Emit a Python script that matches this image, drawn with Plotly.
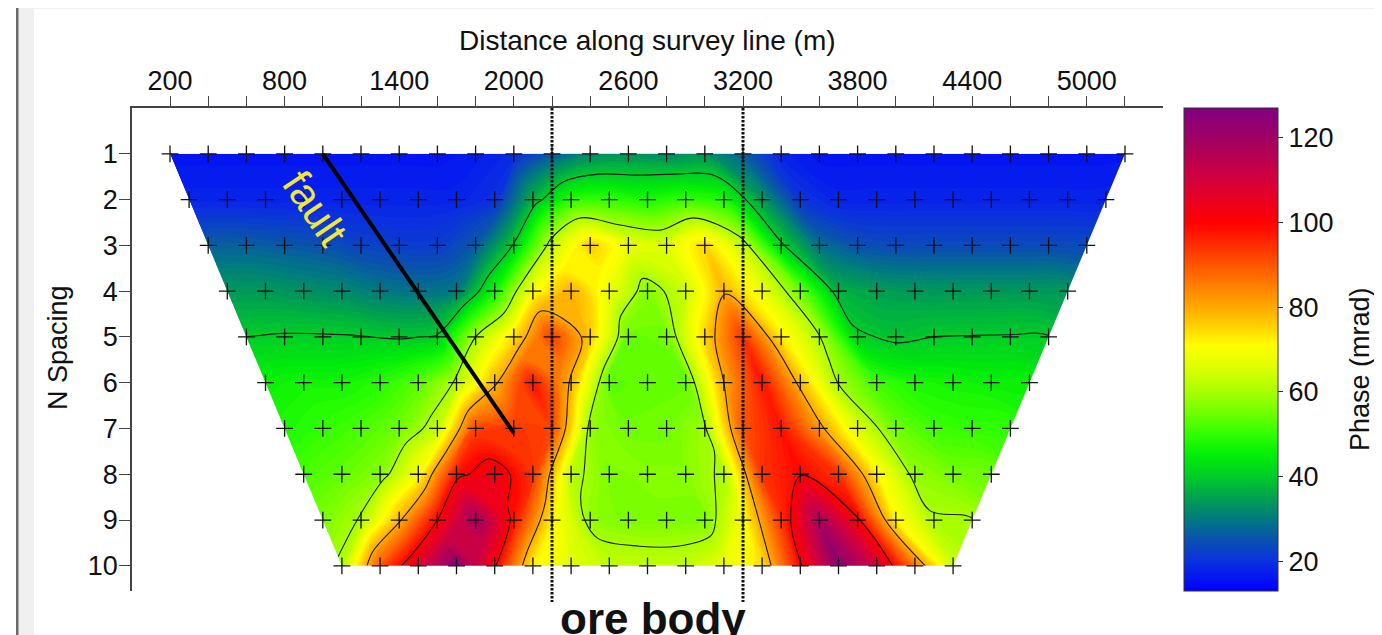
import plotly.graph_objects as go

# ---------------- data ----------------
n_spacing = [1, 2, 3, 4, 5, 6, 7, 8, 9, 10]
row_first_x = [200, 300, 400, 500, 600, 700, 800, 900, 1000, 1100]
row_last_x = [5200, 5100, 5000, 4900, 4800, 4700, 4600, 4500, 4400, 4300]
station_step = 200

phase_n1 = [16, 16, 16, 16, 16, 16, 16, 16, 17, 19, 26, 32, 33, 32, 33, 27, 18, 16, 16, 16, 16, 16, 16, 16, 16, 16]
phase_n2 = [18, 18, 18, 18, 18, 18, 18, 18, 20, 37, 49, 50, 48, 50, 48, 34, 21, 18, 18, 18, 18, 18, 18, 18, 18]
phase_n3 = [27, 27, 26, 25, 23, 22, 22, 26, 40.5, 63, 76, 68, 66, 75, 63, 41, 29, 25, 24, 24, 24, 24, 24, 24]
phase_n4 = [34, 34, 33, 32, 30, 29, 30, 47, 70, 79.5, 68, 57, 64, 79, 68, 55, 37, 35, 34, 34, 34, 34, 34]
phase_n5 = [40.0, 40.5, 40.5, 40.2, 39.4, 40.5, 60, 74, 93, 76, 54, 55, 75, 94, 73, 60.5, 41, 38.8, 40, 40.2, 40.3, 40.3]
phase_n6 = [46, 47, 47, 49, 53, 61, 79, 98, 79, 53, 54, 54, 80, 98, 78, 59.5, 51, 48, 47, 46, 46]
phase_n7 = [48, 50, 52, 55, 63, 92, 94, 92, 58, 55, 55, 59, 90, 98, 82, 66, 55, 51, 50, 50]
phase_n8 = [52, 54, 57, 70, 98, 104, 94, 62, 56, 57, 57, 61, 94, 99.5, 94, 72, 58, 55.5, 55]
phase_n9 = [56, 60.5, 79, 100, 120, 98, 72, 58, 56, 56, 56, 70, 94, 118, 101, 72, 60.5, 60.3]
phase_n10 = [61, 90, 108, 125, 101, 72, 66, 63, 63, 63, 68, 74, 99, 124, 110, 86, 64]
phase_rows = [phase_n1, phase_n2, phase_n3, phase_n4, phase_n5,
              phase_n6, phase_n7, phase_n8, phase_n9, phase_n10]

x_ticks_major = [200, 800, 1400, 2000, 2600, 3200, 3800, 4400, 5000]
x_ticks_minor = list(range(200, 5201, 200))
cbar_ticks = [20, 40, 60, 80, 100, 120]
contour_line_levels = dict(start=40, end=100, size=20)

fault_x = [1000, 2000]
fault_y = [1, 7.1]
ore_body_x = [2200, 3200]

# ---------------- tables built from the data ----------------
n_max = max(len(r) for r in phase_rows)
station_index = list(range(n_max))
xs, ys, zs = [], [], []
grid_x, grid_y, grid_z = [], [], []
for n, x0, x1, vals in zip(n_spacing, row_first_x, row_last_x, phase_rows):
    row_x = list(range(x0, x1 + 1, station_step))
    assert len(row_x) == len(vals), (n, len(row_x), len(vals))
    xs += row_x
    ys += [n] * len(row_x)
    zs += vals
    grid_x.append([x0 + station_step * k for k in station_index])
    grid_y.append([n] * n_max)
    grid_z.append(list(vals) + [None] * (n_max - len(vals)))

# ---------------- geometry (screen pixels; page has an 8px body margin) ----------------
OFF = 8
W, H = 1382 - OFF, 635 - OFF
ML, MT = 132 - OFF, 108 - OFF
PW, PH = 1031, 483
MR, MB = W - ML - PW, H - MT - PH
X_RANGE = [1, 5399]
Y_RANGE = [10.55, 0]


def px_x(p):
    return (p - OFF - ML) / PW


def px_y(p):
    return (MT + PH - (p - OFF)) / PH


def data_x_paper(v):
    return (v - X_RANGE[0]) / (X_RANGE[1] - X_RANGE[0])


cs_vals = [13, 20, 25, 30, 35, 40, 45, 50, 55, 60, 66, 71, 76, 82, 90, 100, 110, 120, 127]
cs_cols = ['#0000ff', '#0a30e0', '#0a50b0', '#007a80', '#00a050', '#00cc28', '#00ee08',
           '#30ff00', '#70ff00', '#a8ff00', '#e0ff00', '#ffff00', '#ffcc00', '#ff9900',
           '#ff5500', '#ff0000', '#d4003c', '#a00064', '#800080']
zmin, zmax = cs_vals[0], cs_vals[-1]
colorscale = [[(v - zmin) / (zmax - zmin), c] for v, c in zip(cs_vals, cs_cols)]

FONT = "Liberation Sans, Arial, sans-serif"
TXT = '#111111'
AX = '#444444'
HIDE = 'rgba(0,0,0,0)'
carpet_axis = dict(showgrid=False, showline=False, startline=False, endline=False,
                   showticklabels='none', minorgridcount=0, smoothing=0,
                   gridcolor=HIDE, linecolor=HIDE, color=HIDE)

fig = go.Figure()

fig.add_trace(go.Carpet(carpet='pseudo', a=station_index, b=n_spacing, x=grid_x, y=grid_y,
                        aaxis=carpet_axis, baxis=carpet_axis))

# smooth colour shading (fine colour steps)
fig.add_trace(go.Contourcarpet(
    carpet='pseudo', a=station_index, b=n_spacing, z=grid_z,
    autocontour=False, colorscale=colorscale, showscale=False,
    contours=dict(coloring='fill', showlines=False, start=zmin + 0.5, end=zmax - 0.5, size=1),
    line=dict(width=0)))

# black contour lines
fig.add_trace(go.Contourcarpet(
    carpet='pseudo', a=station_index, b=n_spacing, z=grid_z,
    autocontour=False, showscale=False,
    contours=dict(coloring='none', showlines=True, **contour_line_levels),
    line=dict(color='#1a1a1a', width=1.1, smoothing=1)))

# white mask outside the trapezoid of measurements
xa, xb = -200, 6500
mx = [xa, xb, xb, xa, xa, None,
      xa, xb, xb, xa, xa, None,
      xa, row_first_x[0], row_first_x[-1], xa, xa, None,
      row_last_x[0], xb, xb, row_last_x[-1], row_last_x[0]]
my = [-1, -1, 1, 1, -1, None,
      10, 10, 12, 12, 10, None,
      1, 1, 10, 10, 1, None,
      1, 1, 10, 10, 1]
fig.add_trace(go.Scatter(x=mx, y=my, mode='lines', fill='toself', fillcolor='white',
                         line=dict(width=0, color='white'), hoverinfo='skip',
                         showlegend=False))

# measurement points (also carry the colour bar)
fig.add_trace(go.Scatter(
    x=xs, y=ys, mode='markers', hoverinfo='skip', showlegend=False,
    marker=dict(symbol='cross-thin', size=12, color=zs, colorscale=colorscale,
                cmin=zmin, cmax=zmax, showscale=True,
                line=dict(width=1.3, color='#111111'),
                colorbar=dict(
                    x=px_x(1184), xref='paper', xanchor='left', xpad=0,
                    y=0.5, yanchor='middle', ypad=0,
                    len=PH, lenmode='pixels', thickness=94, thicknessmode='pixels',
                    outlinewidth=1, outlinecolor='#333333',
                    tickvals=cbar_ticks, ticks='outside', ticklen=5, tickcolor='#333333',
                    tickfont=dict(family=FONT, size=27, color=TXT)))))

# fault line
fig.add_trace(go.Scatter(x=fault_x, y=fault_y, mode='lines', hoverinfo='skip',
                         showlegend=False, line=dict(color='black', width=4)))

shapes = [
    dict(type='rect', xref='paper', yref='paper', x0=px_x(-20), x1=px_x(1400),
         y0=px_y(660), y1=px_y(-20), fillcolor='#f0f0f0', line=dict(width=0), layer='below'),
    dict(type='rect', xref='paper', yref='paper', x0=px_x(34), x1=px_x(1400),
         y0=px_y(660), y1=px_y(9), fillcolor='white', line=dict(width=0), layer='below'),
    dict(type='rect', xref='paper', yref='paper', x0=px_x(-20), x1=px_x(16),
         y0=px_y(660), y1=px_y(-20), fillcolor='white', line=dict(width=0), layer='below'),
    dict(type='rect', xref='paper', yref='paper', x0=px_x(16), x1=px_x(18.5),
         y0=px_y(660), y1=px_y(-20), fillcolor='#6a6a6a', line=dict(width=0), layer='below'),
]
for xv in ore_body_x:
    shapes.append(dict(type='line', xref='paper', yref='paper',
                       x0=data_x_paper(xv), x1=data_x_paper(xv), y0=1, y1=px_y(602),
                       line=dict(color='#111111', width=3, dash='2.5px,1.5px')))

annotations = [
    dict(text='Distance along survey line (m)', xref='paper', yref='paper',
         x=px_x(647), y=px_y(40), xanchor='center', yanchor='middle', showarrow=False,
         font=dict(family=FONT, size=28, color=TXT)),
    dict(text='N Spacing', xref='paper', yref='paper', x=px_x(58), y=px_y(348),
         xanchor='center', yanchor='middle', textangle=-90, showarrow=False,
         font=dict(family=FONT, size=27, color=TXT)),
    dict(text='Phase (mrad)', xref='paper', yref='paper', x=px_x(1360), y=px_y(369),
         xanchor='center', yanchor='middle', textangle=-90, showarrow=False,
         font=dict(family=FONT, size=27, color=TXT)),
    dict(text='fault', xref='x', yref='y', x=960, y=2.2, textangle=56, showarrow=False,
         xanchor='center', yanchor='middle',
         font=dict(family=FONT, size=42, color='#f2e63a')),
    dict(text='<b>ore body</b>', xref='paper', yref='paper', x=px_x(653), y=px_y(618),
         xanchor='center', yanchor='middle', showarrow=False,
         font=dict(family=FONT, size=44, color=TXT)),
]

fig.update_layout(
    width=W, height=H, autosize=False,
    margin=dict(l=ML, r=MR, t=MT, b=MB, pad=0),
    paper_bgcolor='white', plot_bgcolor='white',
    font=dict(family=FONT, color=TXT),
    showlegend=False,
    shapes=shapes, annotations=annotations,
    xaxis=dict(range=X_RANGE, side='top', showline=True, linecolor=AX, linewidth=1.5,
               ticks='outside', ticklen=10, tickwidth=1.3, tickcolor=AX,
               tickvals=x_ticks_major, ticktext=[str(v) for v in x_ticks_major],
               tickfont=dict(family=FONT, size=27, color=TXT), ticklabelstandoff=-5,
               minor=dict(tickvals=x_ticks_minor, ticks='outside', ticklen=10,
                          tickwidth=1.3, tickcolor=AX, showgrid=False),
               showgrid=False, zeroline=False, fixedrange=True),
    yaxis=dict(range=Y_RANGE, showline=True, linecolor=AX, linewidth=1.5,
               ticks='outside', ticklen=11, tickwidth=1.3, tickcolor=AX,
               tickvals=n_spacing, ticktext=[str(v) for v in n_spacing],
               tickfont=dict(family=FONT, size=27, color=TXT), ticklabelstandoff=-4,
               showgrid=False, zeroline=False, fixedrange=True),
)

fig.write_html("out.html")
